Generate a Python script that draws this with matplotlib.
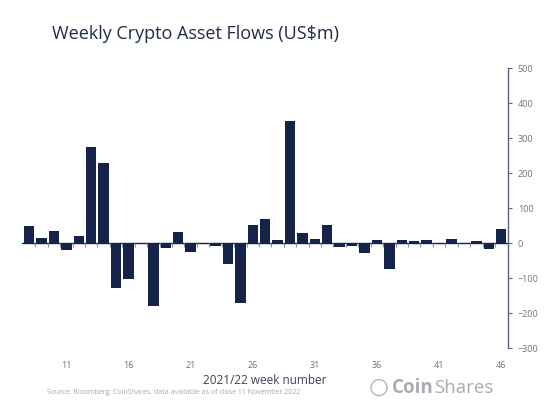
import numpy as np
import matplotlib
matplotlib.use('Agg')
import matplotlib.pyplot as plt
from matplotlib.patches import Circle

# weekly flows, US$m (weeks 8..46)
weeks = list(range(8, 47))
flows = [50, 14, 35, -19, 20, 274, 228, -128, -103, 0,
         -180, -14, 33, -26, -2, -9, -59, -170, 53, 70,
         10, 348, 30, 13, 52, -12, -7, -27, 8, -73,
         8, 7, 10, -2, 11, -2, 5, -17, 40]
week_ticks = [11, 16, 21, 26, 31, 36, 41, 46]
y_ticks = [-300, -200, -100, 0, 100, 200, 300, 400, 500]

navy = '#15234a'
grey = '#6b7283'

plt.rcParams['font.family'] = ['Open Sans', 'DejaVu Sans']

fig = plt.figure(figsize=(5.6, 4.15), dpi=100)
ax = fig.add_axes([0.040, 0.161, 0.867, 0.675])

ax.bar(weeks, flows, width=0.84, color=navy, zorder=2)
ax.axhline(0, color=navy, lw=1.0, zorder=1)
edges = np.array(weeks[:-1]) + 0.5
ax.plot(edges, np.zeros(len(edges)), ls='none', marker=3, ms=3,
        mew=0.8, color='#8a90a0', zorder=1)

ax.set_xlim(7.46, 46.54)
ax.set_ylim(-300, 500)
ax.set_xticks(week_ticks)
ax.set_xticklabels([str(w) for w in week_ticks])
ax.set_yticks(y_ticks)

for s in ['top', 'left', 'bottom']:
    ax.spines[s].set_visible(False)
ax.spines['right'].set_color('#5b6275')
ax.spines['right'].set_linewidth(1.0)
ax.yaxis.tick_right()
ax.tick_params(axis='y', direction='out', length=3, width=0.8, color='#5b6275',
               labelsize=6.5, labelcolor=grey, pad=4)
ax.tick_params(axis='x', length=0, labelsize=6.5, labelcolor=grey, pad=9)

ax.set_xlabel('2021/22 week number', fontsize=8.5, color='#3c4356', labelpad=3)

fig.text(0.093, 0.918, 'Weekly Crypto Asset Flows (US$m)', fontsize=13,
         color='#1f2b48', va='center', ha='left')
fig.text(0.084, 0.055, 'Source: Bloomberg, CoinShares, data available as of close 11 November 2022',
         fontsize=5, color='#a3a7b0', va='center', ha='left')

# CoinShares logo text
t = fig.text(0.700, 0.064, 'Coin', fontsize=13.5, fontweight='bold', color='#a9acb3',
             va='center', ha='left')
fig.canvas.draw()
bb = t.get_window_extent()
fig.text(bb.x1 / fig.bbox.width, 0.064, 'Shares', fontsize=13.5, color='#a9acb3',
         va='center', ha='left')
fig.patches.append(Circle((379, 0.066 * 415), 8, transform=None,
                          fill=False, ec='#b3b6bd', lw=1.0))

fig.savefig('out.png', dpi=100, facecolor='white')
